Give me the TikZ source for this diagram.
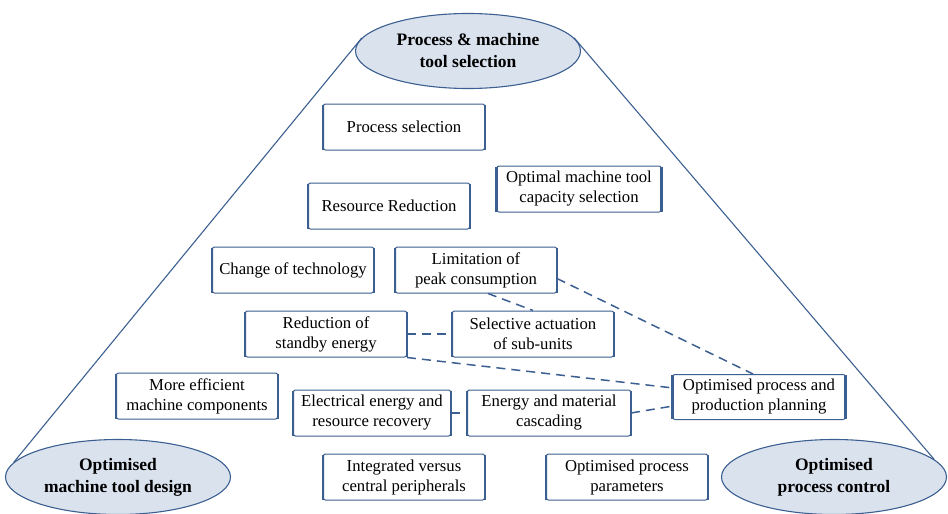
\documentclass[tikz,border=0pt]{standalone}
\usepackage{fontspec}
\setmainfont{Liberation Serif}
\usetikzlibrary{shapes.geometric}
\definecolor{edgeblue}{RGB}{60,95,145}
\definecolor{ovalfill}{RGB}{218,226,238}

\begin{document}
\begin{tikzpicture}[
    x = 1pt, y = -1pt,
    goal/.style = {ellipse, draw=edgeblue, fill=ovalfill, line width=1.1pt,
        minimum width=225pt, minimum height=75pt, inner sep=0pt, align=center,
        font=\fontsize{17.5}{22}\selectfont\bfseries},
    measure/.style = {draw=edgeblue, fill=white, line width=1pt, rounded corners=2pt,
        minimum width=161pt, minimum height=46pt, inner sep=2pt, align=center,
        font=\fontsize{16.7}{20}\selectfont},
    side/.style = {edgeblue, line width=2.6pt},
    link/.style = {edgeblue, line width=1.5pt, dash pattern=on 9pt off 6pt}]

\useasboundingbox (0,0) rectangle (948,514);

% the three targets
\node[goal] (sel-tool) at (468,51)  {Process \& machine\\tool selection};
\node[goal] (design)   at (118,477) {Optimised\\machine tool design};
\node[goal] (control)  at (834,477) {Optimised\\process control};

\draw[edgeblue, line width=1.1pt] (sel-tool.173) -- (design.172)
      (sel-tool.7) -- (control.10);

% measures
\node[measure] (psel)  at (404,127) {Process selection};
\node[measure, minimum width=164pt] (omt) at (579,189) {Optimal machine tool\\capacity selection};
\node[measure] (rres)  at (389,206) {Resource Reduction};
\node[measure] (chg)   at (293,270) {Change of technology};
\node[measure] (lim)   at (476,270) {Limitation of\\peak consumption};
\node[measure] (red)   at (326,334) {Reduction of\\standby energy};
\node[measure] (act)   at (533,334) {Selective actuation\\of sub-units};
\node[measure] (eff)   at (197,396) {More efficient\\machine components};
\node[measure, minimum width=157pt] (elec) at (372,413) {Electrical energy and\\resource recovery};
\node[measure, minimum width=163pt] (casc) at (549,413) {Energy and material\\cascading};
\node[measure, minimum width=172pt, minimum height=45pt] (plan) at (759,397) {Optimised process and\\production planning};
\node[measure] (periph) at (404,477) {Integrated versus\\central peripherals};
\node[measure] (param)  at (627,477) {Optimised process\\parameters};

\foreach \n in {psel, omt, rres, chg, lim, red, act, eff, elec, casc, plan, periph, param}
    \draw[side] ([yshift=-1pt]\n.north west) -- ([yshift=1pt]\n.south west)
                ([yshift=-1pt]\n.north east) -- ([yshift=1pt]\n.south east);

% dependencies
\draw[link] (lim.-6) -- ([xshift=-6pt]plan.north);
\draw[link] ([xshift=12pt]lim.south) -- (act.north);
\draw[link] (red.east) -- (act.west);
\draw[link] (red.south east) -- (plan.174);
\draw[link] (elec.east) -- (casc.west);
\draw[link] (casc.east) -- (plan.186);
\end{tikzpicture}
\end{document}
